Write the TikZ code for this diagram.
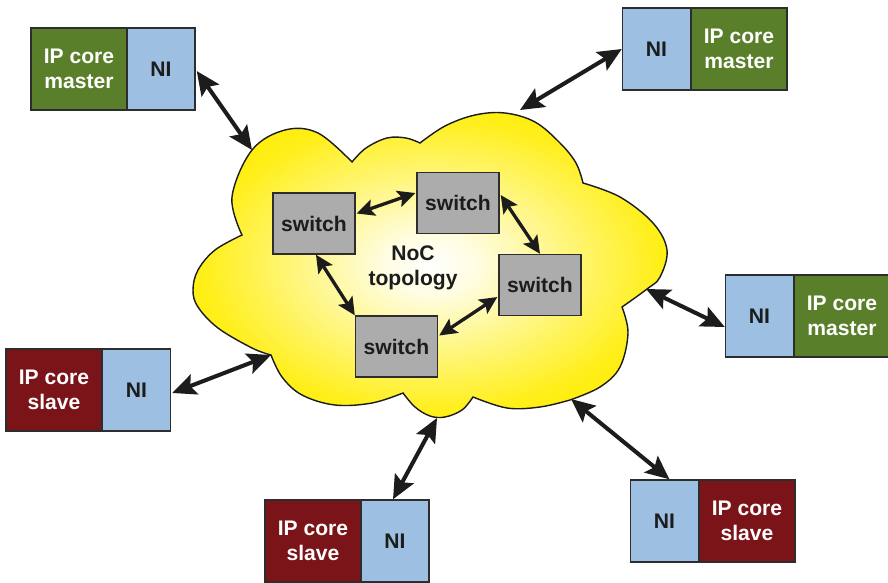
\documentclass[tikz,border=0pt]{standalone}
\usepackage{fontspec}
\setmainfont{Liberation Sans}
\usetikzlibrary{arrows.meta,calc}

\definecolor{coregreen}{RGB}{90,127,42}
\definecolor{corered}{RGB}{122,20,24}
\definecolor{niblue}{RGB}{157,191,225}
\definecolor{swgray}{RGB}{172,172,172}
\definecolor{cloudyellow}{RGB}{255,237,0}
\definecolor{inkdark}{RGB}{28,28,28}
\definecolor{edgegray}{RGB}{45,45,45}

% glow of the network cloud: white core fading out to saturated yellow
\pgfdeclareradialshading{cloudglow}{\pgfpoint{0bp}{0bp}}{%
  color(0bp)=(white);
  color(5bp)=(cloudyellow!12!white);
  color(14bp)=(cloudyellow!50!white);
  color(24bp)=(cloudyellow!90!white);
  color(30bp)=(cloudyellow);
  color(50bp)=(cloudyellow)}

\begin{document}
\begin{tikzpicture}[x=0.02cm,y=-0.02cm,
  every node/.style={font=\fontsize{12}{14.2}\selectfont\bfseries, align=center, inner sep=0pt},
  unit/.style={draw=edgegray, line width=0.8pt, minimum height=1.64cm},
  master/.style={unit, fill=coregreen, text=white, minimum width=1.92cm},
  slave/.style={unit, fill=corered, text=white, minimum width=1.92cm},
  ni/.style={unit, fill=niblue, text=inkdark, minimum width=1.36cm},
  switchbox/.style={draw=edgegray, line width=0.8pt, fill=swgray, text=inkdark,
    minimum width=1.64cm, minimum height=1.22cm},
  biglink/.style={draw=inkdark, line width=2.3pt,
    {Stealth[length=13.5pt,width=12pt,inset=2.5pt]}-{Stealth[length=13.5pt,width=12pt,inset=2.5pt]}},
  swlink/.style={draw=inkdark, line width=1.9pt,
    {Stealth[length=10pt,width=9.5pt,inset=2pt]}-{Stealth[length=10pt,width=9.5pt,inset=2pt]}},
]
\useasboundingbox (0,0) rectangle (888,582);

% the NoC cloud, one smooth piece per lobe
\shade[shading=cloudglow, draw=inkdark, line width=0.8pt]
  plot[smooth, tension=0.6] coordinates {(242,235) (232,197) (252,150) (285,130) (318,133) (352,162)}
  -- plot[smooth, tension=0.6] coordinates {(352,162) (366,148) (387,138) (406,138) (420,143)}
  -- plot[smooth, tension=0.6] coordinates {(420,143) (445,126) (475,115) (505,113) (535,122) (560,143) (576,163) (583,183)}
  -- plot[smooth, tension=0.6] coordinates {(583,183) (620,197) (653,223) (667,250) (660,277) (647,289) (622,307)}
  -- plot[smooth, tension=0.6] coordinates {(622,307) (628,333) (620,367) (600,387) (570,400)}
  -- plot[smooth, tension=0.6] coordinates {(570,400) (540,407) (507,408) (473,397)}
  -- plot[smooth, tension=0.6] coordinates {(473,397) (462,410) (445,417) (430,416) (415,407) (403,393)}
  -- plot[smooth, tension=0.6] coordinates {(403,393) (372,403) (335,405) (302,395) (282,377) (271,355)}
  -- plot[smooth, tension=0.6] coordinates {(271,355) (252,348) (218,328) (198,307) (193,290) (198,270) (215,250) (242,235)}
  -- cycle;

% attachment points on the cloud outline
\coordinate (e1) at (252,150);
\coordinate (e2) at (520,110);
\coordinate (e3) at (646,289);
\coordinate (e4) at (271,355);
\coordinate (e5) at (437,418);
\coordinate (e6) at (571,399);

% switches of the topology
\node[switchbox] (s1) at (314,223.5) {switch};
\node[switchbox] (s2) at (458,203) {switch};
\node[switchbox] (s3) at (540,285) {switch};
\node[switchbox] (s4) at (396.5,346.5) {switch};
\node[text=inkdark] (topo) at (413,268) {NoC\\topology};

\draw[swlink] ($(s1.east)+(1,-10)$) -- ($(s2.west)+(-1,-10)$);
\draw[swlink] ($(s2.east)+(1,-8)$) -- (s3.north);
\draw[swlink] ($(s1.south)+(2,0)$) -- (s4.north west);
\draw[swlink] ($(s3.west)+(-1,12)$) -- ($(s4.east)+(1,-11)$);

% IP cores with their network interfaces
\node[master] (m1) at (79,69) {IP core\\master};
\node[ni] (n1) at (161,69) {NI};
\node[ni] (n2) at (656.5,49) {NI};
\node[master] (m2) at (739,49) {IP core\\master};
\node[ni] (n3) at (759.5,316) {NI};
\node[master] (m3) at (842,316) {IP core\\master};
\node[slave] (c4) at (54,390) {IP core\\slave};
\node[ni] (n4) at (136.5,390) {NI};
\node[slave] (c5) at (313,541) {IP core\\slave};
\node[ni] (n5) at (395,541) {NI};
\node[ni] (n6) at (664.5,521) {NI};
\node[slave] (c6) at (747,521) {IP core\\slave};

% links between interfaces and the network
\draw[biglink] ($(n1.east)+(1,2)$) -- (e1);
\draw[biglink] (n2.west) -- (e2);
\draw[biglink] ($(n3.west)+(0,11)$) -- (e3);
\draw[biglink] ($(n4.east)+(1,3)$) -- (e4);
\draw[biglink] ($(n5.north)+(-2,0)$) -- (e5);
\draw[biglink] ($(n6.north)+(5,0)$) -- (e6);
\end{tikzpicture}
\end{document}
